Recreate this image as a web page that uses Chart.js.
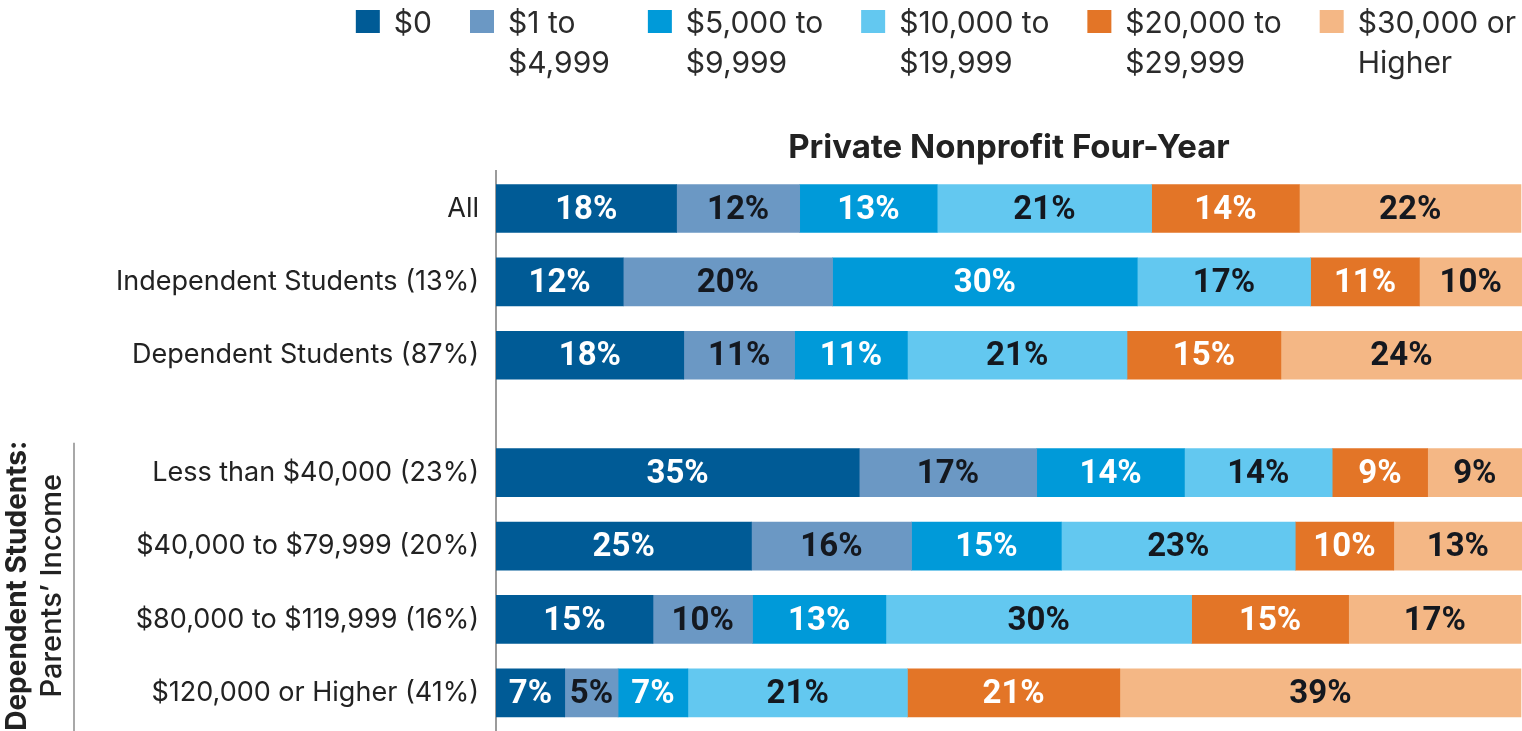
<!DOCTYPE html>
<html>
<head>
<meta charset="utf-8">
<script src="https://cdn.jsdelivr.net/npm/chart.js@4.4.1/dist/chart.umd.min.js"></script>
<style>
html,body{margin:0;padding:0;background:#fff;overflow:hidden}
#wrap{position:relative;width:1522px;height:731px}
</style>
</head>
<body>
<div id="wrap"><canvas id="c" width="1522" height="731"></canvas></div>
<script>
// ---- data ----
const categories = [
  'All',
  'Independent Students (13%)',
  'Dependent Students (87%)',
  'Less than $40,000 (23%)',
  '$40,000 to $79,999 (20%)',
  '$80,000 to $119,999 (16%)',
  '$120,000 or Higher (41%)'
];
const rowPositions = [0, 1, 2, 3.6, 4.6, 5.6, 6.6];
const seriesNames = [
  ['$0'],
  ['$1 to', '$4,999'],
  ['$5,000 to', '$9,999'],
  ['$10,000 to', '$19,999'],
  ['$20,000 to', '$29,999'],
  ['$30,000 or', 'Higher']
];
const zeroDollars      = [17.6, 12.4, 18.3, 35.4, 24.9, 15.3, 6.7];
const oneTo4999        = [12.0, 20.4, 10.8, 17.3, 15.6, 9.7, 5.2];
const fiveTo9999       = [13.4, 29.7, 11.0, 14.4, 14.6, 13.0, 6.8];
const tenTo19999       = [20.9, 16.9, 21.4, 14.4, 22.8, 29.8, 21.4];
const twentyTo29999    = [14.4, 10.6, 15.0, 9.3, 9.6, 15.3, 20.7];
const thirtyOrHigher   = [21.6, 10.0, 23.5, 9.2, 12.5, 16.8, 39.1];
const chartTitle = 'Private Nonprofit Four-Year';
const groupLabel = ['Dependent Students:', 'Parents\u2019 Income'];

// ---- styles ----
const barColors = ['#005b96', '#6b98c4', '#009ad9', '#63c8f0', '#e37527', '#f4b785'];
const labelColors = ['#ffffff', '#14181f', '#ffffff', '#14181f', '#ffffff', '#14181f'];
const seriesValues = [zeroDollars, oneTo4999, fiveTo9999, tenTo19999, twentyTo29999, thirtyOrHigher];
const FONT = 'Inter, "DejaVu Sans", sans-serif';

const datasets = seriesValues.map((vals, di) => ({
  label: seriesNames[di].join(' '),
  data: vals.map((v, i) => ({ x: v, y: rowPositions[i] })),
  backgroundColor: barColors[di],
  borderWidth: 0,
  barThickness: 48
}));

const legendPlugin = {
  id: 'customLegend',
  afterDraw(chart) {
    const ctx = chart.ctx;
    ctx.save();
    ctx.font = '30px ' + FONT;
    ctx.textBaseline = 'alphabetic';
    ctx.textAlign = 'left';
    const box = 24, gap = 14, spacing = 38, right = 1516, top = 10, baseline = 33, lineH = 39.5;
    const widths = seriesNames.map(lines => Math.max(...lines.map(l => ctx.measureText(l).width)));
    const total = widths.reduce((a, w) => a + box + gap + w, 0) + spacing * (widths.length - 1);
    let x = right - total;
    chart.data.datasets.forEach((ds, i) => {
      ctx.fillStyle = ds.backgroundColor;
      ctx.fillRect(x, top, box, 23);
      ctx.fillStyle = '#2b2b2b';
      seriesNames[i].forEach((line, li) => ctx.fillText(line, x + box + gap, baseline + li * lineH));
      x += box + gap + widths[i] + spacing;
    });
    ctx.restore();
  }
};

const valueLabelPlugin = {
  id: 'valueLabels',
  afterDatasetsDraw(chart) {
    const ctx = chart.ctx;
    ctx.save();
    ctx.font = 'bold 33px Roboto, "Liberation Sans", sans-serif';
    ctx.textAlign = 'center';
    ctx.textBaseline = 'middle';
    chart.data.datasets.forEach((ds, di) => {
      const meta = chart.getDatasetMeta(di);
      meta.data.forEach((el, i) => {
        const v = ds.data[i].x;
        ctx.fillStyle = labelColors[di];
        ctx.fillText(Math.round(v) + '%', (el.x + el.base) / 2, el.y + 2);
      });
    });
    ctx.restore();
  }
};

const groupPlugin = {
  id: 'groupLabel',
  afterDraw(chart) {
    const ctx = chart.ctx;
    const y = chart.scales.y;
    const first = y.getPixelForValue(rowPositions[3]);
    const last = y.getPixelForValue(rowPositions[6]);
    const mid = (first + last) / 2 + 3;
    ctx.save();
    ctx.strokeStyle = '#a8a8a8';
    ctx.lineWidth = 2;
    ctx.beginPath();
    ctx.moveTo(74, first - 30);
    ctx.lineTo(74, chart.height);
    ctx.stroke();
    ctx.translate(0, mid);
    ctx.rotate(-Math.PI / 2);
    ctx.textAlign = 'center';
    ctx.textBaseline = 'middle';
    ctx.fillStyle = '#222';
    ctx.font = 'bold 28px ' + FONT;
    ctx.fillText(groupLabel[0], 0, 18);
    ctx.font = '500 29px ' + FONT;
    ctx.fillText(groupLabel[1], 0, 52);
    ctx.restore();
  }
};

new Chart(document.getElementById('c'), {
  type: 'bar',
  data: { datasets },
  plugins: [legendPlugin, valueLabelPlugin, groupPlugin],
  options: {
    indexAxis: 'y',
    responsive: false,
    animation: false,
    devicePixelRatio: 1,
    layout: { padding: { top: 128, left: 0, right: 0, bottom: 0 } },
    plugins: { legend: { display: false }, tooltip: { enabled: false } },
    scales: {
      x: {
        type: 'linear', position: 'top', min: 0, max: 100, stacked: true,
        ticks: { display: false },
        grid: { display: false, drawTicks: false },
        border: { display: false },
        title: {
          display: true, text: chartTitle, color: '#222',
          font: { family: FONT, size: 33, weight: 'bold', lineHeight: 1.2 },
          padding: { top: 0, bottom: 3 }
        }
      },
      y: {
        type: 'linear', reverse: true, min: -0.516, max: 7.12, stacked: true,
        offset: false,
        afterBuildTicks: s => { s.ticks = rowPositions.map(v => ({ value: v })); },
        afterFit: s => { s.width = 496; s.paddingTop = 0; s.paddingBottom = 0; },
        ticks: {
          autoSkip: false, padding: 17, color: '#222',
          font: { family: FONT, size: 27 },
          callback: (v, i) => categories[i]
        },
        grid: { display: false, drawTicks: false, offset: false },
        border: { display: true, color: '#9b9b9b', width: 2 }
      }
    }
  }
});
</script>
</body>
</html>
